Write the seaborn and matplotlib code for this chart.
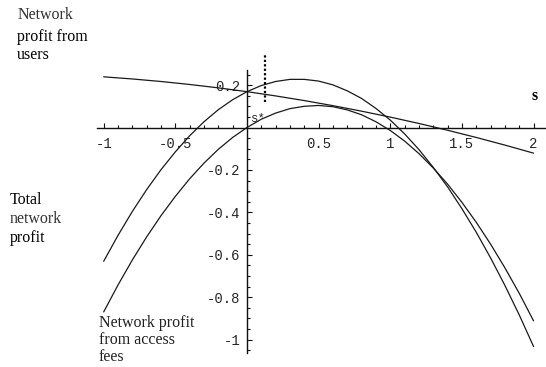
import numpy as np
import pandas as pd
import seaborn as sns
import matplotlib.pyplot as plt

# values (s from -1 to 2, step 0.1)
s = [-1.0, -0.9, -0.8, -0.7, -0.6, -0.5, -0.4, -0.3, -0.2, -0.1, 0.0,
     0.1, 0.2, 0.3, 0.4, 0.5, 0.6, 0.7, 0.8, 0.9, 1.0,
     1.1, 1.2, 1.3, 1.4, 1.5, 1.6, 1.7, 1.8, 1.9, 2.0]
users = [0.239, 0.234, 0.229, 0.223, 0.217, 0.210, 0.203, 0.195, 0.187, 0.178, 0.169,
         0.159, 0.149, 0.138, 0.127, 0.115, 0.103, 0.090, 0.077, 0.063, 0.049,
         0.034, 0.019, 0.003, -0.013, -0.030, -0.047, -0.065, -0.083, -0.102, -0.121]
access = [-0.870, -0.743, -0.625, -0.516, -0.416, -0.325, -0.242, -0.168, -0.103, -0.047, 0.0,
          0.039, 0.068, 0.089, 0.100, 0.104, 0.098, 0.083, 0.060, 0.027, -0.014,
          -0.064, -0.123, -0.191, -0.267, -0.353, -0.447, -0.550, -0.662, -0.782, -0.912]
total = [-0.631, -0.509, -0.396, -0.293, -0.199, -0.115, -0.039, 0.027, 0.084, 0.131, 0.169,
         0.198, 0.217, 0.227, 0.227, 0.219, 0.201, 0.173, 0.137, 0.090, 0.035,
         -0.030, -0.104, -0.188, -0.280, -0.383, -0.494, -0.615, -0.745, -0.884, -1.033]

x_ticks = [-1, -0.5, 0.5, 1, 1.5, 2]
x_labels = ["-1", "-0.5", "0.5", "1", "1.5", "2"]
y_ticks = [0.2, -0.2, -0.4, -0.6, -0.8, -1]
y_labels = ["0.2", "-0.2", "-0.4", "-0.6", "-0.8", "-1"]
s_star = 0.126

sns.set_style("white")
plt.rcParams['font.family'] = ['Liberation Serif', 'DejaVu Serif']

df = pd.DataFrame({"s": s, "users": users, "access": access, "total": total})

W, H = 546, 367
fig = plt.figure(figsize=(W / 100, H / 100), dpi=100)
ax = fig.add_axes([96.5 / W, 1 - 360.7 / H, 3.14 * 143.3 / W, 318 / H])

for col in ["users", "access", "total"]:
    sns.lineplot(data=df, x="s", y=col, ax=ax, color="#1a1a1a", linewidth=0.9)

ax.set_xlim(-1.05, 2.09)
ax.set_ylim(-1.1, 0.4)
ax.set_xlabel("")
ax.set_ylabel("")

for side in ["top", "right"]:
    ax.spines[side].set_visible(False)
ax.spines["left"].set_position(("data", 0))
ax.spines["bottom"].set_position(("data", 0))
ax.spines["left"].set_bounds(-1.064, 0.27)
ax.spines["bottom"].set_bounds(-1.047, 2.09)
for side in ["left", "bottom"]:
    ax.spines[side].set_color("#111111")
    ax.spines[side].set_linewidth(1.0)

mono = "Liberation Mono"
ax.set_xticks(x_ticks)
ax.set_xticklabels(x_labels, family=mono, fontsize=10)
ax.set_yticks(y_ticks)
ax.set_yticklabels(y_labels, family=mono, fontsize=10)
ax.set_xticks([v / 10 for v in range(-10, 21) if v % 5 != 0], minor=True)
ax.set_yticks([v / 20 for v in range(-21, 6) if v % 4 != 0], minor=True)
ax.tick_params(which="both", bottom=True, left=True, top=False, right=False)
ax.tick_params(which="major", direction="in", length=3.6, width=0.8, color="#111111")
ax.tick_params(which="minor", direction="in", length=2.2, width=0.8, color="#111111")
ax.tick_params(axis="x", which="major", pad=6.5)
ax.tick_params(axis="y", which="major", pad=5)

# dotted marker above s*
ax.plot([s_star, s_star], [0.122, 0.342], color="black", linestyle=(0, (1, 1)),
        linewidth=1.6, clip_on=False)
ax.text(0.075, 0.042, "s*", family=mono, fontsize=9, ha="center", va="center")


def ftext(x, y, t, **kw):
    fig.text(x / W, 1 - y / H, t, fontsize=11.5, va="center", **kw)


ftext(18, 15, "Network", color="#333333")
ftext(17, 37, "profit from", color="black")
ftext(17, 55, "users", color="black")
ftext(10, 200, "Total", color="black")
ftext(10, 219, "network", color="#333333")
ftext(10, 238, "profit", color="black")
ftext(99, 323, "Network profit", color="#222222")
ftext(99, 340, "from access", color="#222222")
ftext(99, 357, "fees", color="#222222")
ftext(531, 96, "s", color="black", fontweight="bold")

fig.savefig("out.png", dpi=100)
